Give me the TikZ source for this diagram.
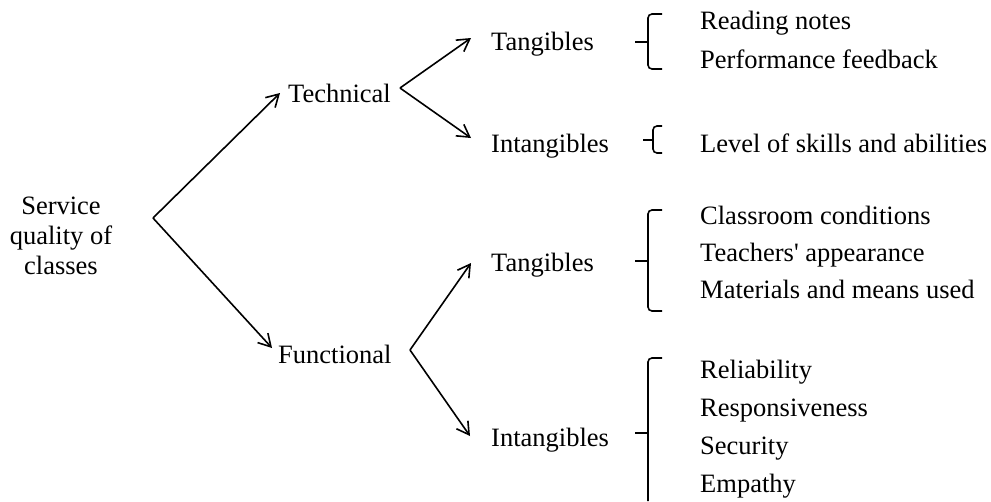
\documentclass[tikz,border=0pt]{standalone}
\usepackage{fontspec}
\setmainfont{Liberation Serif}
\usepackage{tikz}
\usetikzlibrary{arrows.meta, positioning, calc}

\tikzset{
  item/.style={anchor=west, inner sep=4pt, text height=18pt, text depth=6pt},
  branch/.style={line width=1.6pt, -{Straight Barb[angle=60:14pt, line width=1.6pt]}},
  bracket/.style={line width=1.6pt, rounded corners=4pt}
}

\begin{document}
\begin{tikzpicture}[x=1pt, y=-1pt, font=\fontsize{26.5pt}{38pt}\selectfont]
\useasboundingbox (0,0) rectangle (991,501);

\node (SQ) [align=center, font=\fontsize{26.5pt}{30pt}\selectfont] at (61,236) {Service\\quality of\\classes};
\node (Tech) [item] at (284,96) {Technical};
\node (Func) [item] at (274,357) {Functional};

\node (TangT) [item] at (487,44) {Tangibles};
\node (IntT) [item] at (487,146) {Intangibles};
\node (TangB) [item] at (487,265) {Tangibles};
\node (IntB) [item] at (487,440) {Intangibles};

\node (Read) [item] at (696,23) {Reading notes};
\node (Perf) [item] at (696,62) {Performance feedback};
\node (Lev) [item] at (696,146) {Level of skills and abilities};
\node (Room) [item] at (696,218) {Classroom conditions};
\node (Look) [item] at (696,255) {Teachers\textquotesingle\ appearance};
\node (Mat) [item] at (696,292) {Materials and means used};
\node (Rel) [item] at (696,372) {Reliability};
\node (Resp) [item] at (696,410) {Responsiveness};
\node (Sec) [item] at (696,448) {Security};
\node (Emp) [item] at (696,486) {Empathy};

% fork points
\coordinate (SQfork) at (153,218);
\coordinate (Techfork) at (400,88);
\coordinate (Funcfork) at (410,350);

\draw[branch] (SQfork) -- ([xshift=-4pt, yshift=3pt]Tech.west);
\draw[branch] (SQfork) -- ([xshift=-2pt, yshift=9pt]Func.west);
\draw[branch] (Techfork) -- ([xshift=-16pt, yshift=6pt]TangT.west);
\draw[branch] (Techfork) -- ([xshift=-16pt, yshift=8pt]IntT.west);
\draw[branch] (Funcfork) -- ([xshift=-16pt, yshift=2pt]TangB.west);
\draw[branch] (Funcfork) -- ([xshift=-17pt, yshift=4pt]IntB.west);

% braces
\draw[bracket] (662,14) -- (648,14) -- (648,69) -- (662,69);
\draw[line width=1.6pt] (648,42) -- (635,42);
\draw[bracket] (662,126) -- (653,126) -- (653,153) -- (662,153);
\draw[line width=1.6pt] (653,140) -- (643,140);
\draw[bracket] (662,210) -- (648,210) -- (648,311) -- (662,311);
\draw[line width=1.6pt] (648,261) -- (635,261);
\draw[bracket] (662,358) -- (648,358) -- (648,501);
\draw[line width=1.6pt] (648,433) -- (635,433);
\end{tikzpicture}
\end{document}
